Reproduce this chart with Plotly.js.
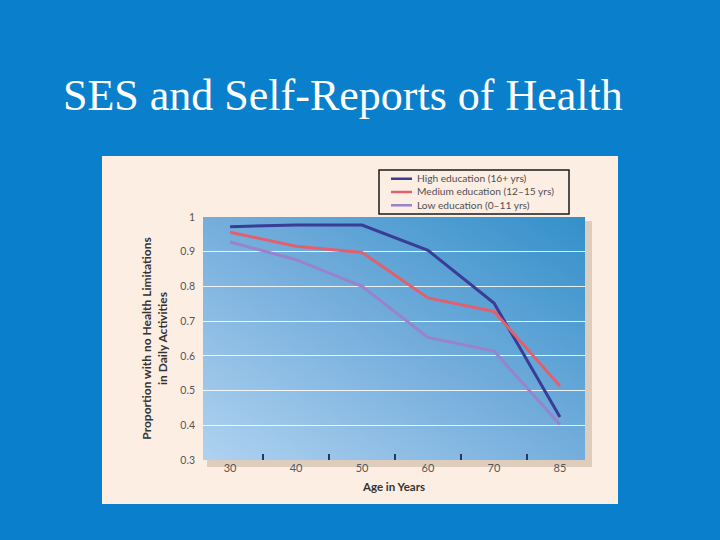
<!DOCTYPE html>
<html><head><meta charset="utf-8">
<script src="https://cdn.plot.ly/plotly-3.0.1.min.js"></script>
<style>html,body{margin:0;padding:0;background:#0A80CC;}</style>
</head><body>
<div id="chart" style="width:720px;height:540px;"></div>
<script>
const ages = ["30","40","50","60","70","85"];
const highEdu = [0.972, 0.977, 0.977, 0.904, 0.752, 0.424];
const medEdu  = [0.956, 0.916, 0.898, 0.767, 0.728, 0.513];
const lowEdu  = [0.928, 0.877, 0.800, 0.653, 0.614, 0.402];
const seriesNames = ["High education (16+ yrs)", "Medium education (12–15 yrs)", "Low education (0–11 yrs)"];
const yTicks = [0.3,0.4,0.5,0.6,0.7,0.8,0.9,1];
const yTickText = ["0.3","0.4","0.5","0.6","0.7","0.8","0.9","1"];

// plot area in pixels
const L = 203, R = 585, T = 217, B = 460, W = 720, H = 540;
const pw = R - L, ph = B - T;
const px = v => (v - L) / pw;       // pixel x -> paper
const py = v => (B - v) / ph;       // pixel y -> paper

const svg = `<svg xmlns="http://www.w3.org/2000/svg" width="${W}" height="${H}" viewBox="0 0 ${W} ${H}">
<defs><linearGradient id="g" x1="0" y1="1" x2="1" y2="0">
<stop offset="0" stop-color="#AFD2F0"/><stop offset="0.5" stop-color="#75AEDC"/><stop offset="1" stop-color="#3390CA"/></linearGradient></defs>
<rect x="102" y="156" width="516" height="348" fill="#FDEEE4"/>
<rect x="${L+4}" y="${T+4}" width="${pw+3}" height="${ph+3}" fill="#D6C4B3" opacity="0.8"/>
<rect x="${L}" y="${T}" width="${pw}" height="${ph}" fill="url(#g)"/>
</svg>`;
const bgUri = 'data:image/svg+xml;utf8,' + encodeURIComponent(svg);

const colors = ["#3B3C96", "#E2606E", "#9A82CC"];
const dataSets = [highEdu, medEdu, lowEdu];
const traces = dataSets.map((vals, i) => ({
  x: ages, y: vals, name: seriesNames[i], type: 'scatter', mode: 'lines',
  line: {color: colors[i], width: 3}
}));

const font = "Lato, 'Open Sans', sans-serif";
const legFont = 10.2, legStep = legFont * 1.3, legMid = 192;

// compact legend box (drawn with shapes + one multi-line text)
const legShapes = [{
  type: 'rect', xref: 'paper', yref: 'paper', layer: 'above',
  x0: px(379), x1: px(569), y0: py(legMid + 1.5 * legStep + 2), y1: py(legMid - 1.5 * legStep - 2),
  fillcolor: '#FDEEE4', line: {color: '#1a1a1a', width: 1.5}
}];
seriesNames.forEach((nm, i) => {
  const yy = legMid + (i - 1) * legStep;
  legShapes.push({type: 'line', xref: 'paper', yref: 'paper', layer: 'above',
    x0: px(391), x1: px(412), y0: py(yy), y1: py(yy), line: {color: colors[i], width: 2.5}});
});
const legAnn = [{text: seriesNames.join('<br>'), xref: 'paper', yref: 'paper', x: px(415), y: py(legMid),
  xanchor: 'left', yanchor: 'middle', align: 'left', showarrow: false,
  font: {family: font, size: legFont, color: '#505050'}}];

const layout = {
  width: W, height: H,
  paper_bgcolor: '#0A80CC', plot_bgcolor: 'rgba(0,0,0,0)',
  margin: {l: L, r: W - R, t: T, b: H - B},
  showlegend: false,
  xaxis: {
    type: 'category', range: [-0.41, 5.38], fixedrange: true,
    showgrid: false, zeroline: false, showline: false,
    tickson: 'boundaries', ticks: 'inside', ticklen: 6, tickwidth: 1.3, tickcolor: '#213A66',
    tickfont: {family: font, size: 11, color: '#555'},
    title: {text: 'Age in Years', font: {family: font, size: 11.5, color: '#333', weight: 'bold'}, standoff: 9}
  },
  yaxis: {
    range: [0.3, 1.0], fixedrange: true,
    tickvals: yTicks, ticktext: yTickText,
    showgrid: true, gridcolor: 'rgba(255,255,255,0.85)', gridwidth: 1.2,
    zeroline: false, showline: false, ticks: '', ticklabelstandoff: 7,
    tickfont: {family: font, size: 10.5, color: '#555'},
    title: {text: 'Proportion with no Health Limitations<br>in Daily Activities', font: {family: font, size: 12, color: '#333', weight: 'bold'}, standoff: 10}
  },
  images: [{
    source: bgUri, xref: 'paper', yref: 'paper',
    x: -L / pw, y: 1 + T / ph, sizex: W / pw, sizey: H / ph,
    xanchor: 'left', yanchor: 'top', sizing: 'stretch', layer: 'below'
  }],
  shapes: legShapes,
  annotations: [{
    text: 'SES and Self-Reports of Health', xref: 'paper', yref: 'paper',
    x: px(61), y: py(96), xanchor: 'left', yanchor: 'middle',
    showarrow: false, font: {family: "'Liberation Serif', 'Times New Roman', serif", size: 44, color: '#FFFFFF'}
  }].concat(legAnn)
};

Plotly.newPlot('chart', traces, layout, {displayModeBar: false, staticPlot: true});
</script>
</body></html>
